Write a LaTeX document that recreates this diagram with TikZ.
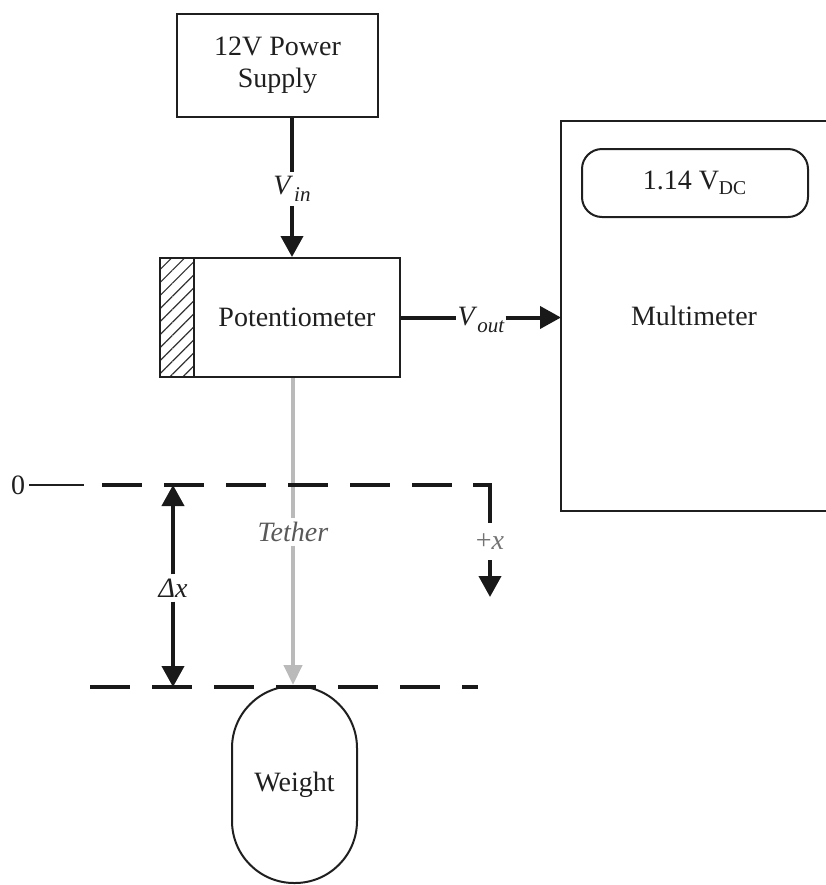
\documentclass[tikz,border=0pt]{standalone}
\usepackage{fontspec}
\setmainfont{Liberation Serif}
\usetikzlibrary{arrows.meta,positioning,patterns.meta}

\begin{document}
\begin{tikzpicture}[
  x=0.5pt, y=-0.5pt,
  font=\fontsize{14}{16}\selectfont,
  box/.style={draw=black!88, text=black!88, line width=1pt, align=center, inner sep=0pt},
  hatchbox/.style={box, pattern={Lines[angle=45,distance=4.6pt,line width=0.6pt]}, pattern color=black!80},
  lab/.style={inner sep=2pt, text=black!88},
  wire/.style={draw=black!90, line width=2pt},
  arr/.style={wire, -{Triangle[length=10.5pt,width=11pt]}},
  tline/.style={draw=black!27, line width=2.2pt},
  tarr/.style={tline, -{Triangle[length=10pt,width=9pt]}},
  dashline/.style={draw=black!90, line width=1.8pt, dash pattern=on 20pt off 11pt},
  rule/.style={draw=black!90, line width=1.8pt}
]
\useasboundingbox (0,0) rectangle (826,885);

\node[box, minimum width=100.5pt, minimum height=51.3pt] (psu) at (277.5,65.3) {12V Power\\Supply};
\node[box, minimum width=103pt, minimum height=59.5pt] (pot) at (297,317.5) {Potentiometer};
\node[hatchbox, minimum width=17pt, minimum height=59.5pt, left=-1pt of pot] (hatch) {};
\node[box, draw=none, minimum width=132pt, minimum height=194pt] (meter) at (694,316) {Multimeter};
\node[box, rounded corners=10pt, minimum width=113pt, minimum height=34pt] (disp) at (695,183) {1.14 V\textsubscript{DC}};
\node[box, rounded corners=31pt, minimum width=62.5pt, minimum height=98.5pt] (wt) at (294.5,784.5) {Weight};

\node[lab] (vin) at (292,189) {\textit{V}\kern0.5pt\raisebox{-0.5ex}{\fontsize{10.5}{11}\selectfont\itshape in}};
\node[lab, inner sep=0.5pt] (vout) at (481,320) {\textit{V}\raisebox{-0.5ex}{\fontsize{10.5}{11}\selectfont\itshape out}};
\node[lab, text=black!65] (teth) at (293,532) {\textit{Tether}};
\node[lab] (zero) at (18,485) {0};
\node[lab, text=black!55] (plusx) at (490,542) {+\textit{x}};
\node[lab] (dx) at (173,588) {\textit{Δx}};

\coordinate (zt) at (84,485);
\coordinate (zs) at (102,485);
\coordinate (ze) at (473,485);
\coordinate (zd) at (490,523);
\coordinate (bs) at (90,687);
\coordinate (be) at (478,687);
\coordinate (xe) at (490,597);

\draw[line width=1pt, draw=black!88] (meter.north east) -- (meter.north west) -- (meter.south west) -- (meter.south east);

\draw[tline] (pot.south -| teth) -- (teth.north);
\draw[tarr] (teth.south) -- (teth.south |- wt.north);

\draw[wire] (psu.south -| vin) -- (vin.north);
\draw[arr] (vin.south) -- (vin.south |- pot.north);
\draw[wire] (pot.east) -- (pot.east -| vout.west);
\draw[arr] (vout.east |- pot.east) -- (pot.east -| meter.west);

\draw[line width=1.2pt, draw=black!88] (zero.east) -- (zt);
\draw[dashline] (zs) -- (ze);
\draw[rule] (ze) -| (zd);
\draw[dashline] (bs) -- (be);

\draw[arr] (dx.north) -- (dx.north |- zs);
\draw[arr] (dx.south) -- (dx.south |- bs);
\draw[arr, shorten <=3pt] (plusx.south) -- (xe);
\end{tikzpicture}
\end{document}
